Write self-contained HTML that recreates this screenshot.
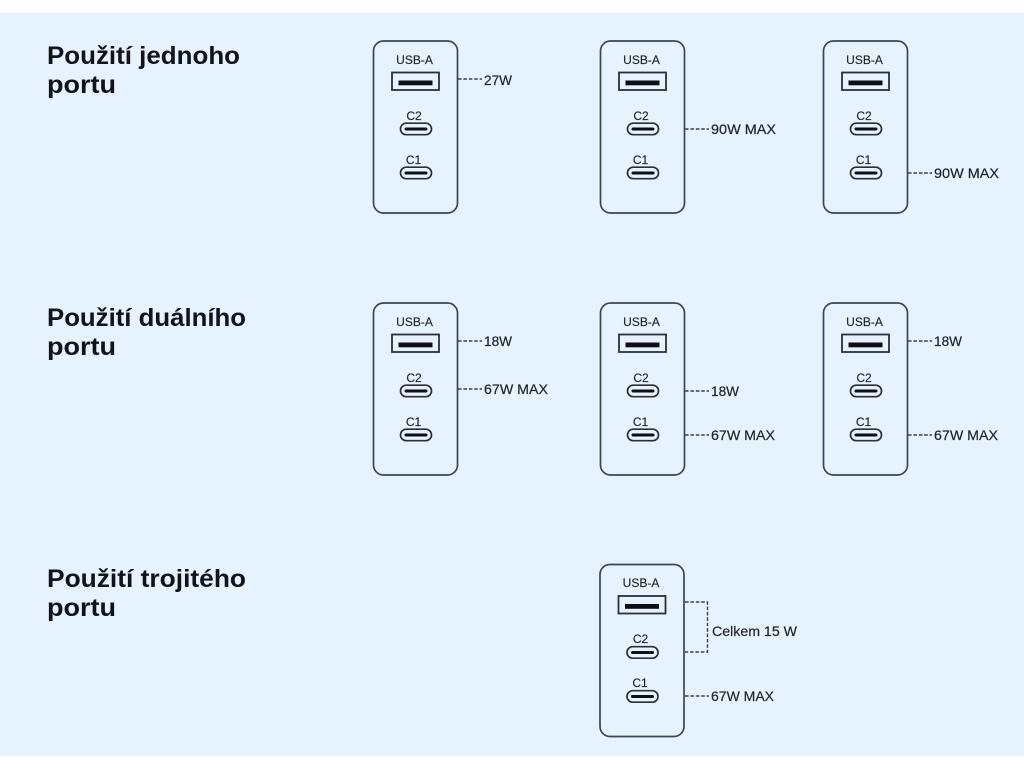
<!DOCTYPE html>
<html><head><meta charset="utf-8"><style>
html,body{margin:0;padding:0;background:#fff}
svg{display:block}
.h{font:bold 25px "Liberation Sans",sans-serif;fill:#10131a}
.p{font:12px "Liberation Sans",sans-serif;fill:#20252c;text-anchor:middle;stroke:#20252c;stroke-width:.15}
.l{font:14px "Liberation Sans",sans-serif;fill:#20252c;stroke:#20252c;stroke-width:.2}
.d{stroke:#3a414b;stroke-width:1.4;stroke-dasharray:3.6 1.8;fill:none}
</style></head><body>
<svg width="1024" height="768" viewBox="0 0 1024 768" xmlns="http://www.w3.org/2000/svg">
<defs>
<g id="dev">
<rect x="0" y="0" width="84" height="172" rx="10" fill="none" stroke="#3a4654" stroke-width="1.7"/>
<rect x="18.500" y="31.500" width="47" height="17.500" fill="none" stroke="#2a3038" stroke-width="1.8"/>
<rect x="25" y="39.500" width="34" height="4.800" fill="#0c0f14"/>
<rect x="27" y="82.200" width="31" height="11.500" rx="5.700" fill="none" stroke="#2a3038" stroke-width="1.700"/>
<rect x="31" y="86.500" width="23" height="3" rx="1.500" fill="#0c0f14"/>
<rect x="27" y="126.200" width="31" height="11.500" rx="5.700" fill="none" stroke="#2a3038" stroke-width="1.700"/>
<rect x="31" y="130.500" width="23" height="3" rx="1.500" fill="#0c0f14"/>
</g>
</defs>
<rect x="0" y="13" width="1024" height="743" fill="#e7f2ff"/>

<text class="h" x="47" y="64" textLength="193" lengthAdjust="spacingAndGlyphs">Použití jednoho</text>
<text class="h" x="47" y="93" textLength="69" lengthAdjust="spacingAndGlyphs">portu</text>
<text class="h" x="47" y="326" textLength="199" lengthAdjust="spacingAndGlyphs">Použití duálního</text>
<text class="h" x="47" y="355" textLength="69" lengthAdjust="spacingAndGlyphs">portu</text>
<text class="h" x="47" y="587" textLength="199" lengthAdjust="spacingAndGlyphs">Použití trojitého</text>
<text class="h" x="47" y="616" textLength="69" lengthAdjust="spacingAndGlyphs">portu</text>

<use href="#dev" x="373.5" y="41"/>
<use href="#dev" x="600.5" y="41"/>
<use href="#dev" x="823.5" y="41"/>
<use href="#dev" x="373.5" y="303"/>
<use href="#dev" x="600.5" y="303"/>
<use href="#dev" x="823.5" y="303"/>
<use href="#dev" x="600" y="564.5"/>

<text class="p" x="414.5" y="64">USB-A</text><text class="p" x="414" y="120">C2</text><text class="p" x="413.5" y="164">C1</text>
<text class="p" x="641.5" y="64">USB-A</text><text class="p" x="641" y="120">C2</text><text class="p" x="640.5" y="164">C1</text>
<text class="p" x="864.5" y="64">USB-A</text><text class="p" x="864" y="120">C2</text><text class="p" x="863.5" y="164">C1</text>
<text class="p" x="414.5" y="326">USB-A</text><text class="p" x="414" y="382">C2</text><text class="p" x="413.5" y="426">C1</text>
<text class="p" x="641.5" y="326">USB-A</text><text class="p" x="641" y="382">C2</text><text class="p" x="640.5" y="426">C1</text>
<text class="p" x="864.5" y="326">USB-A</text><text class="p" x="864" y="382">C2</text><text class="p" x="863.5" y="426">C1</text>
<text class="p" x="641" y="587">USB-A</text><text class="p" x="640.5" y="643">C2</text><text class="p" x="640" y="687">C1</text>

<path class="d" d="M458 79H482"/><text class="l" x="484" y="85" textLength="28" lengthAdjust="spacingAndGlyphs">27W</text>
<path class="d" d="M685 129H709"/><text class="l" x="711" y="134" textLength="65" lengthAdjust="spacingAndGlyphs">90W MAX</text>
<path class="d" d="M908 173H932"/><text class="l" x="934" y="178" textLength="65" lengthAdjust="spacingAndGlyphs">90W MAX</text>

<path class="d" d="M458 341H482"/><text class="l" x="484" y="346" textLength="28" lengthAdjust="spacingAndGlyphs">18W</text>
<path class="d" d="M458 389H482"/><text class="l" x="484" y="394" textLength="64" lengthAdjust="spacingAndGlyphs">67W MAX</text>
<path class="d" d="M685 391H709"/><text class="l" x="711" y="396" textLength="28" lengthAdjust="spacingAndGlyphs">18W</text>
<path class="d" d="M685 435H709"/><text class="l" x="711" y="440" textLength="64" lengthAdjust="spacingAndGlyphs">67W MAX</text>
<path class="d" d="M908 341H932"/><text class="l" x="934" y="346" textLength="28" lengthAdjust="spacingAndGlyphs">18W</text>
<path class="d" d="M908 435H932"/><text class="l" x="934" y="440" textLength="64" lengthAdjust="spacingAndGlyphs">67W MAX</text>

<path class="d" d="M685 602H707.500V652H685"/>
<text class="l" x="712" y="636" textLength="85" lengthAdjust="spacingAndGlyphs">Celkem 15 W</text>
<path class="d" d="M685 696H709"/><text class="l" x="711" y="701" textLength="63" lengthAdjust="spacingAndGlyphs">67W MAX</text>
</svg>
</body></html>
